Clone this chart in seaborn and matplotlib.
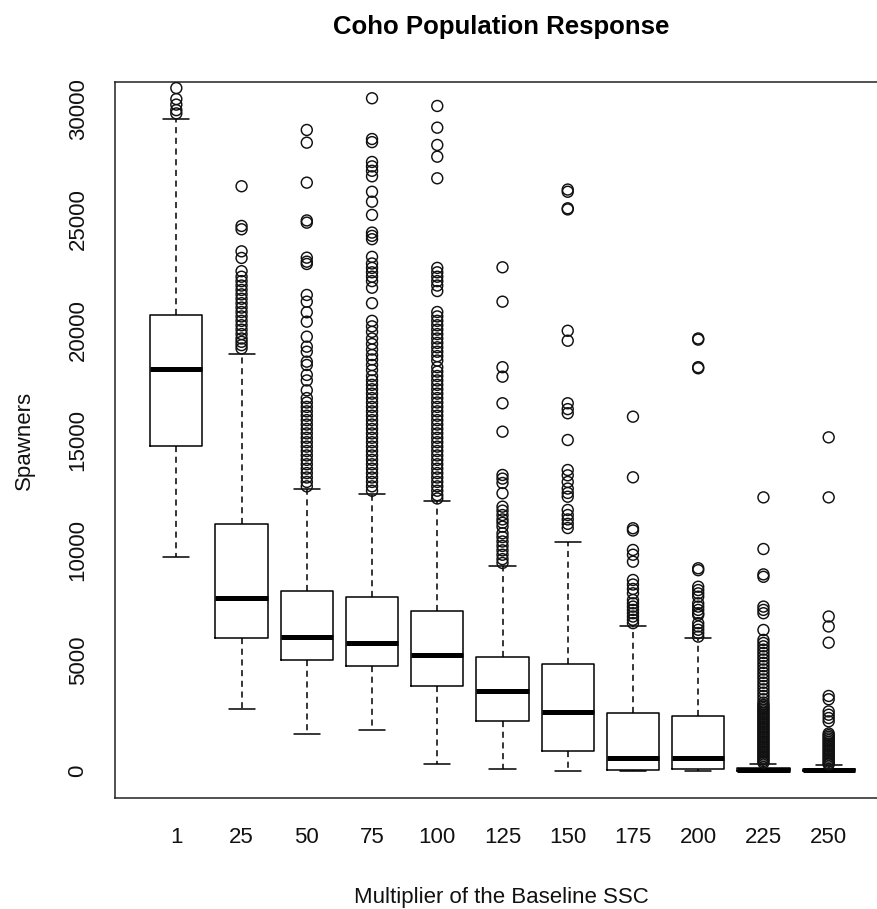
import matplotlib
matplotlib.use("Agg")
import matplotlib.pyplot as plt
import seaborn as sns
import pandas as pd

# ---------------- data ----------------
categories = ["1", "25", "50", "75", "100", "125", "150", "175", "200", "225", "250"]
whis_lo = [9685, 2824, 1677, 1858, 304, 77, 0, 0, 0, 0, 0]
q1 = [14743, 6014, 5031, 4772, 3866, 2251, 906, 45, 90, 10, 0]
median = [18219, 7840, 6087, 5815, 5257, 3626, 2660, 604, 604, 60, 40]
q3 = [20666, 11194, 8158, 7886, 7251, 5180, 4849, 2643, 2507, 150, 110]
whis_hi = [29535, 18913, 12767, 12554, 12236, 9305, 10392, 6587, 6014, 310, 250]

out_1 = [29800, 29950, 30200, 30450, 30950]
out_25 = [26500, 24700, 24550, 23550, 23250, 22650, 22400, 22200, 22000, 21800,
          21600, 21400, 21200, 21000, 20800, 20600, 20400, 20200, 20000, 19800,
          19600, 19450, 19300, 19150]
out_50 = [29050, 28475, 26663, 24950, 24850, 23263, 23082, 22977, 21573, 21269,
          20788, 20363, 19683, 19230, 19003, 18550, 18400, 17950, 17700, 17250,
          16900, 16700, 16500, 16300, 16100, 15900, 15700, 15500, 15300, 15100,
          14900, 14700, 14500, 14300, 14100, 13900, 13700, 13500, 13300, 13100,
          12900]
out_75 = [30487, 28640, 28500, 27600, 27400, 27200, 26950, 26250, 25800, 25200,
          24400, 24250, 24100, 23300, 23000, 22800, 22600, 22400, 22200, 21900,
          21200, 20400, 20150, 19900, 19600, 19350, 19100, 18850, 18650, 18400,
          18170, 17900, 17700, 17500, 17300, 17100, 16900, 16700, 16500, 16300,
          16100, 15900, 15700, 15500, 15300, 15100, 14900, 14700, 14500, 14300,
          14100, 13900, 13700, 13500, 13300, 13100, 12900, 12700]
out_100 = [30138, 29155, 28370, 27840, 26860, 22800, 22600, 22400, 22200, 22000,
           21750, 20800, 20600, 20400, 20200, 20000, 19800, 19600, 19400, 19200,
           19000, 18800, 18600, 18300, 18100, 17900, 17700, 17500, 17300, 17100,
           16900, 16700, 16500, 16300, 16100, 15900, 15700, 15500, 15300, 15100,
           14900, 14700, 14500, 14300, 14100, 13900, 13700, 13500, 13300, 13100,
           12900, 12700, 12500, 12350]
out_125 = [22827, 21269, 18300, 17870, 16665, 15378, 13415, 13250, 13053, 12586,
           11979, 11800, 11600, 11400, 11250, 11072, 10773, 10600, 10400, 10200,
           10000, 9800, 9600, 9427]
out_150 = [26350, 26250, 25500, 25450, 19950, 19500, 16665, 16400, 16212, 15000,
           13640, 13400, 13100, 12800, 12600, 12430, 11830, 11600, 11400, 11200,
           11010]
out_175 = [16057, 13310, 11000, 10900, 10016, 9800, 9486, 8656, 8450, 8250,
           8053, 7750, 7600, 7450, 7300, 7150, 7000, 6850, 6700]
out_200 = [19600, 19550, 18300, 18250, 9187, 9100, 8350, 8200, 8050, 7900,
           7600, 7450, 7300, 7150, 7070, 6700, 6550, 6400, 6250, 6090]
out_225 = [12400, 10060, 8910, 8800, 7450, 7300, 7150, 6390, 5940, 5800,
           5650, 5500, 5350, 5200, 5050, 4900, 4750, 4600, 4450, 4300,
           4150, 4000, 3850, 3700, 3550, 3400, 3250, 3100, 3000, 2925,
           2850, 2775, 2700, 2625, 2550, 2475, 2400, 2325, 2250, 2175,
           2100, 2025, 1950, 1875, 1800, 1725, 1650, 1575, 1500, 1425,
           1350, 1275, 1200, 1125, 1050, 975, 900, 825, 750, 675,
           600, 525, 450, 375]
out_250 = [15120, 12400, 7000, 6550, 5815, 3400, 3250, 2700, 2550, 2400,
           2250, 1700, 1625, 1550, 1475, 1400, 1325, 1250, 1175, 1100,
           1025, 950, 875, 800, 725, 650, 575, 500, 425, 350, 300]

outliers = [out_1, out_25, out_50, out_75, out_100, out_125, out_150,
            out_175, out_200, out_225, out_250]

y_ticks = [0, 5000, 10000, 15000, 20000, 25000, 30000]

# ---------------- style ----------------
sns.set_style("white")
plt.rcParams['font.family'] = ['Liberation Sans', 'DejaVu Sans']

W, H = 877, 909
fig = plt.figure(figsize=(W / 100, H / 100), dpi=100)
fig.patch.set_facecolor("white")
ax = fig.add_axes([115 / W, 111 / H, 775 / W, 716 / H])

positions = list(range(len(categories)))
stats = [dict(med=median[i], q1=q1[i], q3=q3[i], whislo=whis_lo[i],
              whishi=whis_hi[i], fliers=[]) for i in positions]

lc = "black"
ax.bxp(stats, positions=positions, widths=0.8, capwidths=0.4,
       showfliers=False, patch_artist=False,
       boxprops=dict(color=lc, lw=1.1),
       medianprops=dict(color=lc, lw=3.6, solid_capstyle="butt"),
       whiskerprops=dict(color=lc, lw=1.1, linestyle=(0, (4, 3))),
       capprops=dict(color=lc, lw=1.1))

df = pd.DataFrame({
    "pos": [positions[i] for i, o in enumerate(outliers) for _ in o],
    "value": [v for o in outliers for v in o],
})
sns.scatterplot(data=df, x="pos", y="value", ax=ax, marker="o", s=62,
                legend=False, zorder=3)
coll = ax.collections[-1]
coll.set_facecolor("none")
coll.set_edgecolor("#111111")
coll.set_linewidth(1.05)

ax.set_xlim(-0.94, 10.94)
ax.set_ylim(-1224, 31224)
ax.set_xticks(positions)
ax.set_xticklabels(categories)
ax.set_yticks(y_ticks)
ax.set_yticklabels([str(t) for t in y_ticks], rotation=90, va="center")
ax.set_xlabel("")
ax.set_ylabel("")
ax.tick_params(axis="both", direction="out", length=10, width=1.0,
               color="#222222", labelsize=16, labelcolor="#111111")
ax.tick_params(axis="x", pad=11)
ax.tick_params(axis="y", pad=9)
for s in ax.spines.values():
    s.set_visible(True)
    s.set_color("#222222")
    s.set_linewidth(1.1)

fig.text(501.5 / W, 1 - 27 / H, "Coho Population Response", ha="center",
         va="center", fontsize=18.5, fontweight="bold", color="black")
fig.text(501.5 / W, 6 / H, "Multiplier of the Baseline SSC", ha="center",
         va="baseline", fontsize=16, color="#111111")
fig.text(24 / W, 1 - 440 / H, "Spawners", ha="center", va="center",
         rotation=90, fontsize=16, color="#111111")

fig.savefig("out.png", dpi=100, facecolor="white")
